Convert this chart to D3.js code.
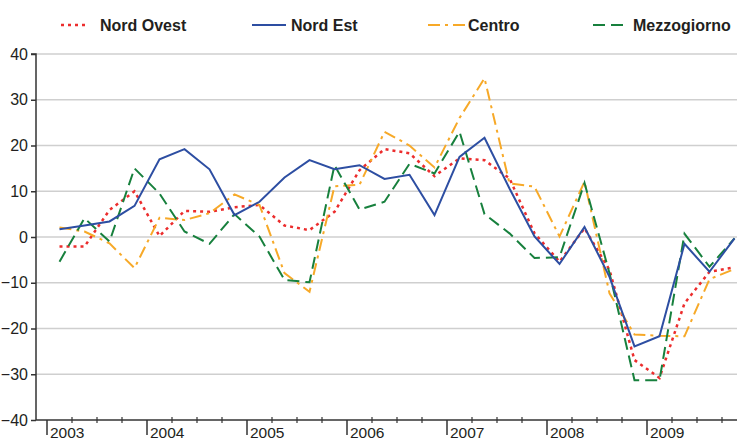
<!DOCTYPE html>
<html><head><meta charset="utf-8">
<script src="https://cdn.jsdelivr.net/npm/d3@7"></script>
<style>
html,body{margin:0;padding:0;background:#fff;}
svg{display:block;font-family:"Liberation Sans",Arial,sans-serif;}
</style></head>
<body>
<svg id="c" width="737" height="441"></svg>
<script>
const years = ["2003","2004","2005","2006","2007","2008","2009"];
const yTicks = [-40,-30,-20,-10,0,10,20,30,40];
const seriesNames = ["Nord Ovest","Nord Est","Centro","Mezzogiorno"];
// quarterly values 2003Q1 .. 2009Q4
const nordOvest = [-2.1,-2.1,5.9,10,0.2,5.7,5.5,6.5,7,2.5,1.5,5.5,14.6,19.2,18.3,13.3,17.2,16.8,12.8,0.8,-5.4,1.9,-7.2,-26.9,-30.8,-14.5,-7.6,-6.6];
const nordEst = [1.7,2.5,3.4,6.8,17,19.2,14.8,4.8,7.7,13,16.8,14.8,15.7,12.7,13.6,4.8,17.5,21.7,10.6,0.1,-5.9,2.2,-8.7,-23.9,-21.7,-1.5,-7.6,-0.3];
const centro = [2.1,1.2,-1.4,-6.8,4.2,3.7,5.2,9.3,7,-7.9,-12,11.1,11.4,23,20,15.2,26,34.7,11.7,11,0.1,12.1,-12.3,-21.3,-21.6,-21.7,-9.2,-7];
const mezzogiorno = [-5.4,4.1,-1,15,9.5,1.2,-1.5,5,0.1,-9.4,-9.9,15.7,6,7.7,16,13.9,23,5,0.8,-4.6,-4.4,11.8,-7.9,-31.3,-31.3,0.7,-6.5,-0.3];

const svg = d3.select("#c");
const x = d3.scaleLinear().domain([0,28]).range([47,747]);
const y = d3.scaleLinear().domain([-40,40]).range([420,54]);
const axisLeftX = 36;

// gridlines
svg.append("g").selectAll("line").data(yTicks.filter(d=>d!==-40)).join("line")
  .attr("x1",axisLeftX).attr("x2",737).attr("y1",d=>y(d)).attr("y2",d=>y(d))
  .attr("stroke","#cfcfcf").attr("stroke-width",1.5);

// y axis
const yAxis = d3.axisLeft(y).tickValues(yTicks).tickSize(5).tickPadding(3).tickFormat(d3.format("d"));
const gy = svg.append("g").attr("transform",`translate(${axisLeftX},0)`).call(yAxis);
gy.select(".domain").attr("stroke","#333").attr("stroke-width",1.5).attr("d",`M-5,${y(40)}H0V${y(-40)}`);
gy.selectAll(".tick line").attr("stroke","#333").attr("stroke-width",1.5);
gy.selectAll(".tick text").attr("font-size",16).attr("fill","#231f20").attr("font-family","Liberation Sans, Arial, sans-serif");

// x axis line
svg.append("line").attr("x1",axisLeftX).attr("x2",737).attr("y1",y(-40)).attr("y2",y(-40))
  .attr("stroke","#333").attr("stroke-width",1.5);
// minor quarter ticks
const quarters = d3.range(0,29).filter(q=>q%4!==0);
svg.append("g").selectAll("line").data(quarters).join("line")
  .attr("x1",d=>x(d)).attr("x2",d=>x(d)).attr("y1",y(-40)-3).attr("y2",y(-40)+3)
  .attr("stroke","#333").attr("stroke-width",1.2);
// major year ticks
svg.append("g").selectAll("line").data(years).join("line")
  .attr("x1",(d,i)=>x(i*4)).attr("x2",(d,i)=>x(i*4)).attr("y1",y(-40)).attr("y2",y(-40)+15)
  .attr("stroke","#333").attr("stroke-width",1.5);
svg.append("g").selectAll("text").data(years).join("text")
  .attr("x",(d,i)=>x(i*4)+3).attr("y",438).attr("font-size",15.5).attr("fill","#231f20")
  .text(d=>d);

// series
const series = [
  {name:seriesNames[0], vals:nordOvest, color:"#ec2d2d", dash:"3,4", width:2.5},
  {name:seriesNames[1], vals:nordEst, color:"#2d4ea2", dash:null, width:2},
  {name:seriesNames[2], vals:centro, color:"#f7a928", dash:"12,5,3,5", width:2},
  {name:seriesNames[3], vals:mezzogiorno, color:"#17803d", dash:"12,6", width:2}
];
const line = d3.line().x((d,i)=>x(i+0.5)).y(d=>y(d));
const drawOrder = [0,2,3,1];
drawOrder.forEach(k=>{
  const s = series[k];
  svg.append("path").datum(s.vals).attr("d",line).attr("fill","none")
    .attr("stroke",s.color).attr("stroke-width",s.width)
    .attr("stroke-dasharray",s.dash).attr("stroke-linejoin","miter");
});

// legend
const legendPos = [{x1:61,x2:88,tx:100},{x1:252,x2:286,tx:291},{x1:428,x2:465,tx:468},{x1:593,x2:627,tx:633}];
const lg = svg.append("g");
series.forEach((s,i)=>{
  const p = legendPos[i];
  lg.append("line").attr("x1",p.x1).attr("x2",p.x2).attr("y1",25).attr("y2",25)
    .attr("stroke",s.color).attr("stroke-width",s.width).attr("stroke-dasharray",s.dash);
  lg.append("text").attr("x",p.tx).attr("y",31).attr("font-size",16).attr("font-weight","bold")
    .attr("fill","#231f20").text(s.name);
});
</script>
</body></html>
